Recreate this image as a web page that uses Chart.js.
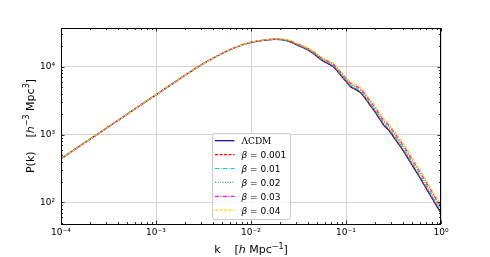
<!DOCTYPE html>
<html lang="en">
  <head>
    <meta charset="utf-8" />
    <title>P(k)</title>
    <style>
      * {
        margin: 0;
        padding: 0;
      }
      body {
        background: white;
      }
    </style>
  </head>
  <body>
    <canvas id="myChart" width="490" height="257"></canvas>
    <script src="https://cdn.jsdelivr.net/npm/chart.js"></script>
    <script>
      // data
      const kValues = [1e-4, 3.16e-4, 5.62e-4, 1e-3, 1.78e-3, 3.16e-3, 4.22e-3, 5.62e-3, 7.5e-3, 0.01, 0.0133, 0.0178, 0.0237, 0.0316, 0.0422, 0.0562, 0.075, 0.0891, 0.1, 0.112, 0.126, 0.141, 0.158, 0.178, 0.2, 0.224, 0.251, 0.282, 0.316, 0.398, 0.501, 0.631, 0.794, 1.0];
      const pLCDM = [440, 1297, 2234, 3840, 6620, 11090, 13900, 17020, 20140, 22750, 24320, 25230, 24210, 20420, 16750, 12330, 9730, 7300, 6050, 5060, 4620, 4180, 3470, 2735, 2195, 1730, 1365, 1153, 925, 583, 347, 205, 119, 69];
      const pBeta001 = [440, 1297, 2234, 3840, 6620, 11090, 13900, 17020, 20140, 22750, 24325, 25245, 24235, 20455, 16790, 12370, 9765, 7330, 6075, 5085, 4645, 4200, 3490, 2750, 2210, 1740, 1375, 1160, 931, 587, 349.7, 206.7, 120, 69.6];
      const pBeta01 = [440, 1297, 2234, 3840, 6620, 11090, 13900, 17020, 20140, 22780, 24375, 25345, 24435, 20715, 17090, 12655, 10025, 7555, 6280, 5270, 4815, 4365, 3635, 2870, 2310, 1825, 1445, 1220, 981, 620, 370, 219.4, 127.7, 74.2];
      const pBeta02 = [440, 1297, 2234, 3840, 6620, 11090, 13900, 17020, 20140, 22800, 24430, 25465, 24660, 21015, 17440, 12985, 10330, 7820, 6520, 5485, 5020, 4555, 3805, 3015, 2435, 1925, 1525, 1295, 1041, 660, 395, 234.8, 136.9, 79.8];
      const pBeta03 = [440, 1297, 2234, 3840, 6620, 11090, 13900, 17020, 20140, 22830, 24490, 25580, 24890, 21320, 17795, 13325, 10645, 8100, 6770, 5710, 5230, 4760, 3985, 3170, 2565, 2030, 1610, 1370, 1105, 702.5, 422, 251.4, 146.9, 85.8];
      const pBeta04 = [440, 1297, 2234, 3840, 6620, 11090, 13900, 17020, 20140, 22855, 24545, 25700, 25120, 21630, 18155, 13675, 10970, 8380, 7025, 5945, 5455, 4970, 4170, 3325, 2700, 2145, 1705, 1450, 1173, 748, 450, 269, 157.6, 92.2];

      const xTickValues = [1e-4, 1e-3, 1e-2, 1e-1, 1];
      const xTickLabels = ['10⁻⁴', '10⁻³', '10⁻²', '10⁻¹', '10⁰'];
      const yTickValues = [1e2, 1e3, 1e4];
      const yTickLabels = ['10²', '10³', '10⁴'];

      const series = [
        { label: 'ΛCDM', values: pLCDM, color: '#000080', dash: [], serif: true },
        { label: '0.001', values: pBeta001, color: '#ff0000', dash: [3, 1.5] },
        { label: '0.01', values: pBeta01, color: '#00c8c8', dash: [4, 1.5, 1, 1.5] },
        { label: '0.02', values: pBeta02, color: '#2eb82e', dash: [1, 1.5] },
        { label: '0.03', values: pBeta03, color: '#ff00ff', dash: [4, 1.5, 1, 1.5] },
        { label: '0.04', values: pBeta04, color: '#ffd700', dash: [3, 1.5] },
      ];

      // log ticks: majors from arrays, minors 2..9 per decade
      function logTicks(lo, hi, majors) {
        const ticks = [];
        for (let e = lo; e <= hi; e++) {
          const base = Math.pow(10, e);
          for (let m = 1; m <= 9; m++) {
            const v = m * base;
            ticks.push({ value: v, major: m === 1 && majors.includes(v) });
          }
        }
        return ticks;
      }

      const datasets = series.map((s, i) => ({
        label: s.label,
        data: kValues.map((k, j) => ({ x: k, y: s.values[j] })),
        borderColor: s.color,
        borderWidth: 1.2,
        borderDash: s.dash,
        pointRadius: 0,
        fill: false,
        cubicInterpolationMode: 'monotone',
        order: series.length - i,
      }));

      // tick marks (inward, all four sides) and frame
      const frame = {
        id: 'frame',
        afterDraw(chart) {
          const { ctx, chartArea: { left, right, top, bottom }, scales: { x, y } } = chart;
          ctx.save();
          ctx.strokeStyle = '#000';
          ctx.lineWidth = 0.8;
          ctx.beginPath();
          x.ticks.forEach((t) => {
            if (t.value < 1e-4 || t.value > 1) return;
            const px = Math.round(x.getPixelForValue(t.value)) + 0.5;
            const len = t.major ? 3.5 : 2;
            ctx.moveTo(px, bottom);
            ctx.lineTo(px, bottom - len);
            ctx.moveTo(px, top);
            ctx.lineTo(px, top + len);
          });
          y.ticks.forEach((t) => {
            if (t.value < y.min || t.value > y.max) return;
            const py = Math.round(y.getPixelForValue(t.value)) + 0.5;
            const len = t.major ? 3.5 : 2;
            ctx.moveTo(left, py);
            ctx.lineTo(left + len, py);
            ctx.moveTo(right, py);
            ctx.lineTo(right - len, py);
          });
          ctx.stroke();
          ctx.lineWidth = 1;
          ctx.strokeRect(left + 0.5, top + 0.5, right - left - 1, bottom - top);
          ctx.restore();
        },
      };

      function drawRich(ctx, parts, cx, baseY) {
        let total = 0;
        parts.forEach((p) => {
          ctx.font = p.font;
          p.w = ctx.measureText(p.text).width;
          total += p.w;
        });
        let xx = cx - total / 2;
        parts.forEach((p) => {
          ctx.font = p.font;
          ctx.fillText(p.text, xx, baseY - (p.up || 0));
          xx += p.w;
        });
      }

      // axis titles and legend
      const labels = {
        id: 'labels',
        afterDraw(chart) {
          const { ctx, chartArea: { left, right, top, bottom } } = chart;
          const f = '11px "DejaVu Sans"';
          const fi = 'italic 11px "DejaVu Sans"';
          const fs = '8px "DejaVu Sans"';
          ctx.save();
          ctx.fillStyle = '#000';
          ctx.textAlign = 'left';
          ctx.textBaseline = 'alphabetic';
          drawRich(ctx, [
            { text: 'k', font: f },
            { text: '    [', font: f },
            { text: 'h', font: fi },
            { text: ' Mpc', font: f },
            { text: '−1', font: fs, up: 4.5 },
            { text: ']', font: f },
          ], (left + right) / 2, 253);

          ctx.translate(33.5, (top + bottom) / 2);
          ctx.rotate(-Math.PI / 2);
          drawRich(ctx, [
            { text: 'P(k)', font: f },
            { text: '    [', font: f },
            { text: 'h', font: fi },
            { text: '−3', font: fs, up: 4.5 },
            { text: ' Mpc', font: f },
            { text: '3', font: fs, up: 4.5 },
            { text: ']', font: f },
          ], 0, 0);
          ctx.restore();

          // legend box
          const bx = 212, by = 133, bw = 78, bh = 86;
          ctx.save();
          ctx.beginPath();
          ctx.roundRect(bx + 0.5, by + 0.5, bw, bh, 2);
          ctx.fillStyle = 'rgba(255,255,255,0.8)';
          ctx.fill();
          ctx.strokeStyle = '#cccccc';
          ctx.lineWidth = 1;
          ctx.stroke();
          series.forEach((s, i) => {
            const ry = 140.7 + i * 13.9;
            ctx.beginPath();
            ctx.setLineDash(s.dash);
            ctx.strokeStyle = s.color;
            ctx.lineWidth = 1.2;
            ctx.moveTo(215, ry);
            ctx.lineTo(234.5, ry);
            ctx.stroke();
            ctx.setLineDash([]);
            ctx.fillStyle = '#000';
            ctx.textBaseline = 'alphabetic';
            if (s.serif) {
              ctx.font = '9px "DejaVu Serif"';
              ctx.fillText(s.label, 241.5, ry + 3.3);
            } else {
              ctx.font = 'italic 9px "DejaVu Sans"';
              ctx.fillText('β', 241.5, ry + 3.3);
              const w = ctx.measureText('β').width;
              ctx.font = '9px "DejaVu Sans"';
              ctx.fillText(' = ' + s.label, 241.5 + w, ry + 3.3);
            }
          });
          ctx.restore();
        },
      };

      const gridColor = (c) => (c.tick && c.tick.major ? '#d4d4d4' : 'rgba(0,0,0,0)');

      const config = {
        type: 'line',
        data: { datasets },
        options: {
          responsive: false,
          animation: false,
          devicePixelRatio: 1,
          layout: { padding: { top: 28, right: 49, left: 0, bottom: 0 } },
          plugins: { legend: { display: false }, tooltip: { enabled: false } },
          scales: {
            x: {
              type: 'logarithmic',
              min: 1e-4,
              max: 1,
              afterBuildTicks: (s) => {
                s.ticks = logTicks(-4, -1, xTickValues).concat([{ value: 1, major: true }]);
              },
              afterFit: (s) => {
                s.height = 33;
              },
              border: { display: false },
              grid: { color: gridColor, lineWidth: 1, drawTicks: false },
              ticks: {
                autoSkip: false,
                maxRotation: 0,
                padding: 3,
                color: '#000',
                font: { family: 'DejaVu Sans', size: 9 },
                callback: (v) => {
                  const i = xTickValues.findIndex((t) => Math.abs(t - v) / t < 1e-6);
                  return i >= 0 ? xTickLabels[i] : '';
                },
              },
            },
            y: {
              type: 'logarithmic',
              min: 48,
              max: 37100,
              afterBuildTicks: (s) => {
                s.ticks = logTicks(1, 4, yTickValues).filter((t) => t.value >= 48 && t.value <= 37100);
              },
              afterFit: (s) => {
                s.width = 61;
              },
              border: { display: false },
              grid: { color: gridColor, lineWidth: 1, drawTicks: false },
              ticks: {
                autoSkip: false,
                padding: 6,
                color: '#000',
                font: { family: 'DejaVu Sans', size: 9 },
                callback: (v) => {
                  const i = yTickValues.findIndex((t) => Math.abs(t - v) / t < 1e-6);
                  return i >= 0 ? yTickLabels[i] : '';
                },
              },
            },
          },
        },
        plugins: [frame, labels],
      };

      const myChart = new Chart(document.getElementById('myChart'), config);
    </script>
  </body>
</html>
